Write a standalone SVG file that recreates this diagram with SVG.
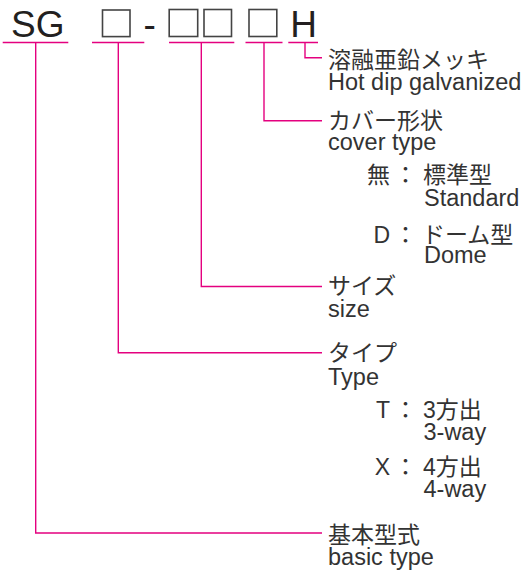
<svg xmlns="http://www.w3.org/2000/svg" width="524" height="572" viewBox="0 0 524 572">
<style>
.code{font-family:"Liberation Sans","Noto Sans CJK JP",sans-serif;font-size:37px;fill:#231f20}
.box{fill:none;stroke:#444;stroke-width:1.6}
.lbl{font-family:"Liberation Sans","Noto Sans CJK JP",sans-serif;fill:#333}
.jp{font-size:23px}
.en{font-size:23.5px}
.key{text-anchor:end}
.ln{fill:none;stroke:#e4007f;stroke-width:1.4}
</style>
<rect width="524" height="572" fill="#fff"/>
<g id="code">
<text class="code" x="11" y="36.7">SG</text>
<rect class="box" x="102.5" y="10" width="27.5" height="26.6"/>
<text class="code" x="143.4" y="36.7">-</text>
<rect class="box" x="169.2" y="9.5" width="28.5" height="27"/>
<rect class="box" x="204" y="9.5" width="27.5" height="27"/>
<rect class="box" x="249" y="9.5" width="27.8" height="27"/>
<text class="code" x="290.3" y="36.7">H</text>
</g>
<g id="connectors">
<path class="ln" d="M2.7 42.5H68.3M35.7 42.5V533H322"/>
<path class="ln" d="M92 42.5H144.3M118.3 42.5V352.7H322"/>
<path class="ln" d="M169 42.5H234.3M201.3 42.5V286.5H322"/>
<path class="ln" d="M245.5 42.5H282.5M264 42.5V120.7H322"/>
<path class="ln" d="M288.3 42.5H318M305 42.5V57.7H322"/>
</g>
<g id="hot-dip">
<text class="lbl"><tspan class="jp" x="328" y="67.5">溶融亜鉛メッキ</tspan><tspan class="en" x="328" y="90">Hot dip galvanized</tspan></text>
</g>
<g id="cover-type">
<text class="lbl"><tspan class="jp" x="328" y="128.5">カバー形状</tspan><tspan class="en" x="328" y="150">cover type</tspan></text>
<text class="lbl jp key" x="390" y="183">無</text>
<text class="lbl jp" x="394" y="183">：</text>
<text class="lbl"><tspan class="jp" x="423" y="183">標準型</tspan><tspan class="en" x="424" y="206">Standard</tspan></text>
<text class="lbl jp key" x="390" y="242.7">D</text>
<text class="lbl jp" x="394" y="242.7">：</text>
<text class="lbl"><tspan class="jp" x="422" y="242.7">ドーム型</tspan><tspan class="en" x="424" y="263.3">Dome</tspan></text>
</g>
<g id="size">
<text class="lbl"><tspan class="jp" x="328" y="294">サイズ</tspan><tspan class="en" x="328" y="316.7">size</tspan></text>
</g>
<g id="type">
<text class="lbl"><tspan class="jp" x="328" y="360.5">タイプ</tspan><tspan class="en" x="328" y="385">Type</tspan></text>
<text class="lbl jp key" x="390" y="418.3">T</text>
<text class="lbl jp" x="394" y="418.3">：</text>
<text class="lbl"><tspan class="jp" x="423" y="418.3">3方出</tspan><tspan class="en" x="423.5" y="440">3-way</tspan></text>
<text class="lbl jp key" x="390" y="475">X</text>
<text class="lbl jp" x="394" y="475">：</text>
<text class="lbl"><tspan class="jp" x="423" y="475">4方出</tspan><tspan class="en" x="423.5" y="496.7">4-way</tspan></text>
</g>
<g id="basic-type">
<text class="lbl"><tspan class="jp" x="328" y="542.5">基本型式</tspan><tspan class="en" x="328" y="565">basic type</tspan></text>
</g>
</svg>
